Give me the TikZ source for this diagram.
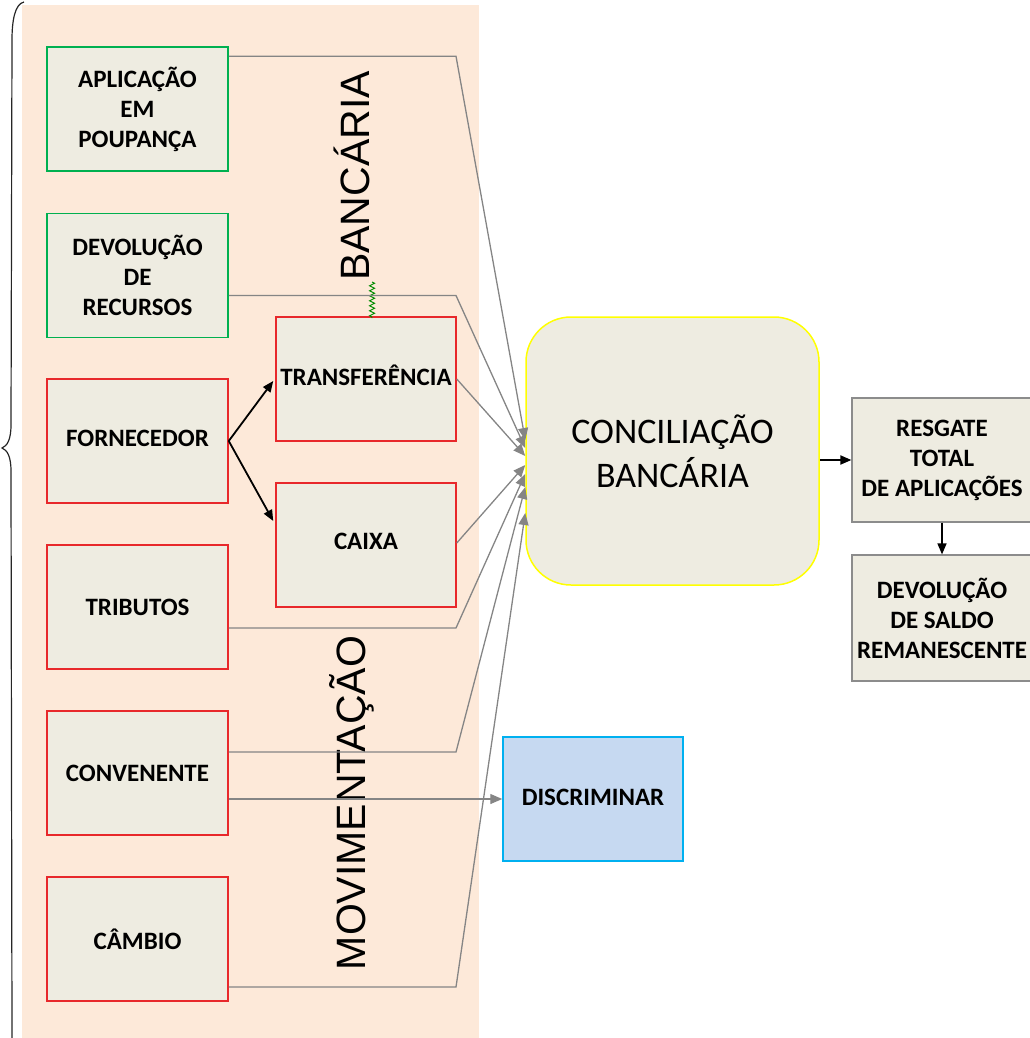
\documentclass[tikz,border=0pt]{standalone}
\usepackage{fontspec}
\setmainfont{Carlito}
\newfontfamily\arialf{Liberation Sans}
\usetikzlibrary{arrows.meta,calc,decorations.pathmorphing}
\definecolor{peach}{HTML}{FDE9D9}
\definecolor{boxfill}{HTML}{EEECE1}
\definecolor{grn}{HTML}{00B050}
\definecolor{rd}{HTML}{E8282B}
\definecolor{yel}{HTML}{FFFF00}
\definecolor{gryb}{HTML}{8C8C8C}
\definecolor{connc}{HTML}{858585}
\definecolor{bluefill}{HTML}{C6D9F1}
\definecolor{blueborder}{HTML}{00B0F0}
\begin{document}
\begin{tikzpicture}[x=1pt,y=-1pt,
  box/.style={draw, fill=boxfill, line width=1.5pt, minimum width=181pt, minimum height=124pt,
    inner sep=0pt, align=center, font=\fontsize{25}{30}\selectfont\bfseries},
  greenbox/.style={box, draw=grn},
  redbox/.style={box, draw=rd},
  greybox/.style={box, draw=gryb, line width=1.2pt},
  conn/.style={draw=connc, line width=1.3pt, -{Triangle[length=12pt,width=10pt]}},
  blackarrow/.style={draw=black, line width=1.8pt, -{Triangle[length=11pt,width=9pt]}},
  sidelabel/.style={rotate=90, font=\arialf\fontsize{41}{41}\selectfont, inner sep=0pt}
]
\useasboundingbox (0,0) rectangle (1029,1038);
% background
\fill[peach] (22,5) rectangle (479,1038);
% brace
\draw[line width=1.2pt, black!85] (24,2) .. controls (15,4) and (12,20) .. (12,40) -- (11,425)
  .. controls (11,440) and (7,446) .. (2,448) .. controls (7,450) and (11,456) .. (11,471) -- (12,1038);

% side labels
\node[sidelabel] (lbB) at (352,176) {BANCÁRIA};
\node[sidelabel] (lbM) at (352,803) {MOVIMENTAÇÃO};

% left boxes
\node[greenbox] (apl) at (137.5,109) {APLICAÇÃO\\EM\\POUPANÇA};
\node[greenbox] (dev) at (137.5,275.5) {DEVOLUÇÃO\\DE\\RECURSOS};
\node[redbox] (forn) at (137.5,441) {\raisebox{5pt}{FORNECEDOR}};
\node[redbox] (trib) at (137.5,607) {\raisebox{-3pt}{TRIBUTOS}};
\node[redbox] (conv) at (137.5,773) {\raisebox{-3pt}{CONVENENTE}};
\node[redbox] (camb) at (137.5,939) {\raisebox{-3pt}{CÂMBIO}};
\node[redbox, minimum width=180pt] (transf) at (366,379) {\raisebox{7pt}{TRANSFERÊNCIA}};
\node[redbox, minimum width=180pt] (caixa) at (366,545) {\raisebox{7pt}{CAIXA}};

% central node
\node[draw=yel, fill=boxfill, line width=1.5pt, rounded corners=45pt, minimum width=293pt,
  minimum height=268pt, inner sep=0pt, align=center, font=\fontsize{36}{44}\selectfont] (conc) at (672.5,451)
  {CONCILIAÇÃO\\BANCÁRIA};

% right boxes
\node[greybox, minimum width=180pt] (resg) at (942,460) {RESGATE\\TOTAL\\DE APLICAÇÕES};
\node[greybox, minimum width=180pt, minimum height=126pt] (saldo) at (942,618) {DEVOLUÇÃO\\DE SALDO\\REMANESCENTE};
\node[box, draw=blueborder, fill=bluefill, minimum width=180pt] (disc) at (593,799) {\raisebox{4pt}{DISCRIMINAR}};

% squiggle
\draw[green!55!black, line width=0.9pt, decorate, decoration={zigzag, amplitude=2.5pt, segment length=5pt}]
  (372,282) -- (372,318);

% connectors to conciliacao
\coordinate (bend) at (456,0);
\draw[conn] ($(apl.north east)+(0,10)$) -- ($(bend |- apl.north east)+(0,10)$) -- ($(conc.west)+(0,-11)$);
\draw[conn] ($(dev.east)+(0,20)$) -- ($(bend |- dev.east)+(0,20)$) -- ($(conc.west)+(0,-3)$);
\draw[conn] (transf.east) -- ($(conc.west)+(0,5)$);
\draw[conn] ($(caixa.east)+(0,-2)$) -- ($(conc.west)+(0,14)$);
\draw[conn] ($(trib.east)+(0,21)$) -- ($(bend |- trib.east)+(0,21)$) -- ($(conc.west)+(0,23)$);
\draw[conn] ($(conv.east)+(0,-21)$) -- ($(bend |- conv.east)+(0,-21)$) -- ($(conc.west)+(0,36)$);
\draw[conn] ($(camb.east)+(0,48)$) -- ($(bend |- camb.east)+(0,48)$) -- ($(conc.west)+(0,62)$);
\draw[conn] ($(conv.east)+(0,26)$) -- (disc.west);

% black arrows
\draw[blackarrow] (forn.east) -- ($(transf.west)+(-2,2)$);
\draw[blackarrow] (forn.east) -- ($(caixa.west)+(-2,-24)$);
\draw[blackarrow] (conc.east |- resg.west) -- (resg.west);
\draw[blackarrow, line width=1.5pt] (resg.south) -- (saldo.north);
\end{tikzpicture}
\end{document}
